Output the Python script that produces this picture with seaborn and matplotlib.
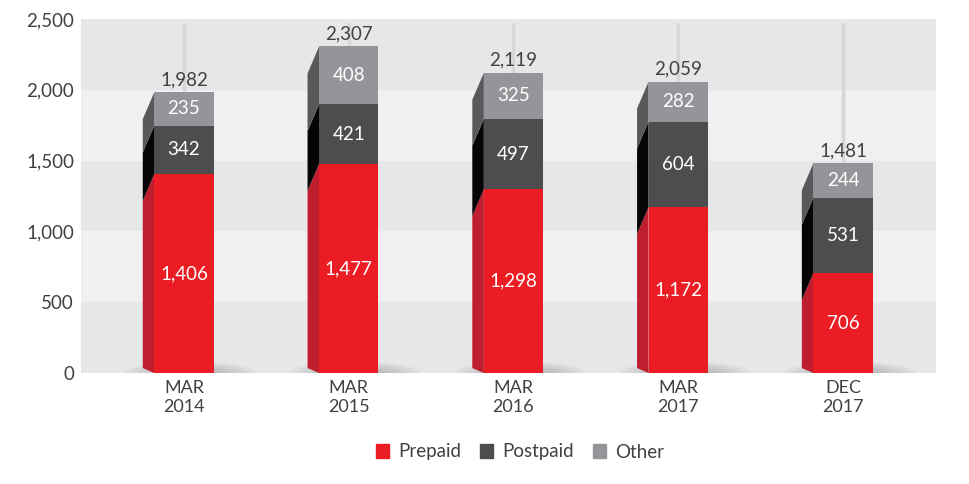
import numpy as np
import pandas as pd
import seaborn as sns
import matplotlib.pyplot as plt
from matplotlib.patches import Polygon, Ellipse, Patch
from matplotlib.ticker import FuncFormatter

# values
periods = ["MAR\n2014", "MAR\n2015", "MAR\n2016", "MAR\n2017", "DEC\n2017"]
prepaid = [1406, 1477, 1298, 1172, 706]
postpaid = [342, 421, 497, 604, 531]
other = [235, 408, 325, 282, 244]
totals = [1982, 2307, 2119, 2059, 1481]

series = ["Prepaid", "Postpaid", "Other"]
front_colors = ["#ec1c24", "#4d4d4f", "#939598"]
side_colors = ["#be1e2d", "#050505", "#58595b"]
text_color = "#414042"

df = pd.DataFrame({"period": periods, "Prepaid": prepaid,
                   "Postpaid": postpaid, "Other": other})
df["cum1"] = df["Prepaid"]
df["cum2"] = df["cum1"] + df["Postpaid"]
df["cum3"] = df["cum2"] + df["Other"]

sns.set_theme(style="white")
plt.rcParams["font.family"] = ["Lato", "DejaVu Sans"]

fig = plt.figure(figsize=(9.7, 4.84), dpi=100)
ax = fig.add_axes([0.0835, 0.2293, 0.8814, 0.7314])

# alternating horizontal bands
for i, lo in enumerate(range(0, 2500, 500)):
    ax.axhspan(lo, lo + 500, color="#e6e7e8" if i % 2 == 0 else "#f0f0f2",
               zorder=0, lw=0)

# front faces: draw cumulative totals back to front
bar_w = 0.36
for col, c in zip(["cum3", "cum2", "cum1"], front_colors[::-1]):
    sns.barplot(data=df, x="period", y=col, color=c, saturation=1,
                width=bar_w, ax=ax, zorder=4, edgecolor="none", linewidth=0)

xs = np.arange(len(periods))

# faint vertical guide at each bar
ax.vlines(xs, 0, 2475, color="#d6d7d9", lw=2.5, zorder=1)

# soft shadow at the foot of each bar
for x in xs:
    for k in range(6):
        ax.add_patch(Ellipse((x + 0.04, 0), 0.8 - k * 0.08, 160 - k * 18,
                             color="#6d6e71", alpha=0.06, lw=0, zorder=2))

# left side faces for the 3D look
dx = 0.07
drop = 190
lift = 35


def side_y(v):
    return v - drop if v > 0 else v + lift


for i, x in enumerate(xs):
    x0 = x - bar_w / 2
    bounds = [0, df["cum1"][i], df["cum2"][i], df["cum3"][i]]
    for j in range(3):
        b, t = bounds[j], bounds[j + 1]
        poly = Polygon([(x0, b), (x0, t), (x0 - dx, side_y(t)),
                        (x0 - dx, side_y(b))],
                       closed=True, color=side_colors[j], lw=0, zorder=3)
        ax.add_patch(poly)
        ax.text(x, (b + t) / 2, f"{[prepaid, postpaid, other][j][i]:,}",
                ha="center", va="center", color="white", fontsize=13.5,
                zorder=6)
    ax.annotate(f"{totals[i]:,}", (x, bounds[3]), xytext=(0, 3),
                textcoords="offset points", ha="center", va="bottom",
                color=text_color, fontsize=13.5, zorder=6)

ax.set_xlim(-0.625, 4.564)
ax.set_ylim(0, 2500)
ax.set_yticks(range(0, 2501, 500))
ax.yaxis.set_major_formatter(FuncFormatter(lambda v, p: f"{int(v):,}"))
ax.tick_params(axis="y", length=0, pad=5, labelsize=13.5, colors=text_color)
ax.tick_params(axis="x", length=0, pad=5, labelsize=13, colors=text_color)
ax.set_xlabel("")
ax.set_ylabel("")
sns.despine(ax=ax, left=True, bottom=True)

handles = [Patch(color=c, label=s) for s, c in zip(series, front_colors)]
fig.legend(handles=handles, loc="center", bbox_to_anchor=(520 / 970, 1 - 452 / 484),
           ncol=3, frameon=False, fontsize=13.5, handlelength=0.7,
           handleheight=0.7, handletextpad=0.5, columnspacing=1.0,
           labelcolor=text_color)

fig.savefig("out.png", dpi=100)
